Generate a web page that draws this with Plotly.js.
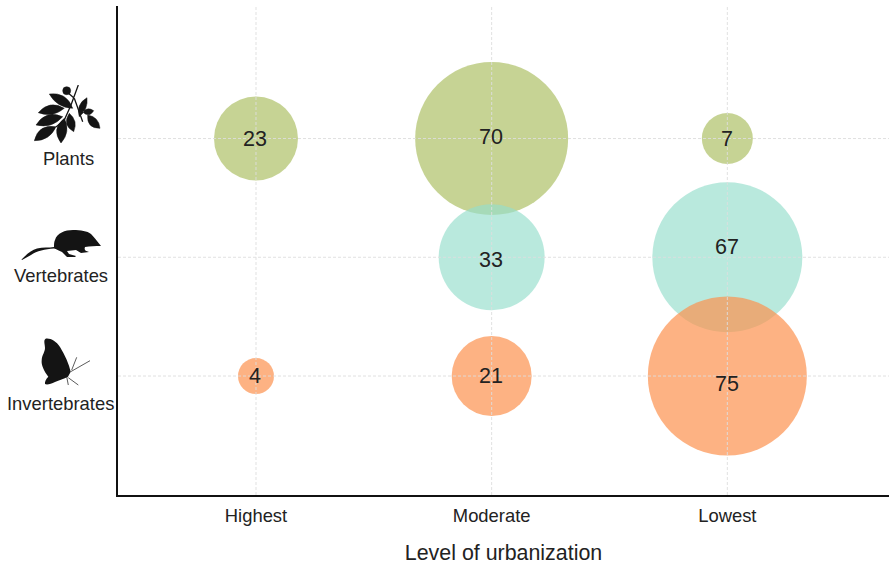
<!DOCTYPE html>
<html><head><meta charset="utf-8">
<script src="https://cdn.plot.ly/plotly-3.0.1.min.js"></script>
<style>html,body{margin:0;padding:0;background:#fff}#c{width:889px;height:565px}</style></head>
<body><div id="c"></div>
<script>
const urbanization = ['Highest','Moderate','Lowest'];
const taxa = ['Invertebrates','Vertebrates','Plants'];
const plantsValues = [23,70,7];
const vertebratesValues = [null,33,67];
const invertebratesValues = [4,21,75];
const plantsDiam = [84,153,51];
const vertebratesDiam = [0,106,150];
const invertebratesDiam = [36,80,159];
const plantsShift = [0,2,0];
const vertebratesShift = [0,-3,10];
const invertebratesShift = [0,0,-8];
const FONT = '"Liberation Sans", Arial, sans-serif';
const TEXT = '#222222';

function svg(body, w, h){
  return 'data:image/svg+xml;utf8,' + encodeURIComponent('<svg xmlns="http://www.w3.org/2000/svg" width="'+w+'" height="'+h+'" viewBox="0 0 '+w+' '+h+'">'+body+'</svg>');
}
function leaf(x1,y1,x2,y2,b){
  const mx=(x1+x2)/2,my=(y1+y2)/2,dx=x2-x1,dy=y2-y1,l=Math.hypot(dx,dy),nx=-dy/l*b,ny=dx/l*b;
  return 'M'+x1+' '+y1+'Q'+(mx+nx)+' '+(my+ny)+' '+x2+' '+y2+'Q'+(mx-nx*0.7)+' '+(my-ny*0.7)+' '+x1+' '+y1+'Z';
}
const plantIcon = svg('<g transform="translate(1,0)" fill="#141414" stroke="#141414" stroke-width=".5">'+
 '<circle cx="31.7" cy="5.7" r="4"/>'+
 '<path d="'+leaf(37.7,23.3,14.3,9,11)+leaf(29.3,23.3,3.3,27.7,11)+leaf(27.7,31.7,1,40,12)+leaf(21,41.7,-0.7,55.7,12)+leaf(29.3,33.3,26,58,12)+leaf(34.3,28.3,38.7,46.7,10)+leaf(44.3,31.7,52,12.7,-8)+leaf(47.7,27,58.7,25.7,7)+leaf(52.7,30,65,43.3,10)+'"/>'+
 '<path d="M43.3 0L36 20L29.3 35L21 42M39.3 13.3L47.7 36.7M32 7L39 13" fill="none" stroke-width="1.3"/></g>',68,62);
const shrewIcon = svg('<path fill="#141414" d="M34 12C36 5 44 2 52 2C60 2 66 3 70 6C73 9 76 13 80 18C74 18 69 18 64 19C63 22 64 23 68 24L60 25L55 22L46 23L48 26L55 28L54 29L46 29L41 24C38 23 35 21 33 20.5C24 21 16 23 10 27L1 32L0.5 31.5C5 27 10 22 16 20.5C22 19 28 20 33 19C33 16 33 14 34 12Z"/>',81,36);
const butterflyIcon = svg('<path fill="#141414" d="M5 0.5C10 0 15 3 19 9C24 17 28 26 29.7 33.7L27 38.7C23 41 18 42 14 44C10 46 6 47 4 46C3.5 44 5 41 7.3 38.7C3 33 0 27 0.7 22C1 17 4 14 4 10C4 6 2 2 5 0.5Z"/><path fill="none" stroke="#141414" stroke-width=".7" d="M29.7 33.7L49 22.7M30.7 32L35.7 19.3M25.7 38.7L27.3 47M27.3 39.7L37.3 47"/>',50,50);

function bubble(name,vals,diam,color,yi){
  return {type:'scatter',mode:'markers',name,x:urbanization,y:vals.map(()=>taxa[yi]),
    marker:{size:diam,sizemode:'diameter',color,opacity:1,line:{width:0}},
    hoverinfo:'text',text:vals.map(v=>v==null?'':String(v))};
}
const traces=[
  bubble('Plants',plantsValues,plantsDiam,'rgba(169,188,92,0.66)',2),
  bubble('Vertebrates',vertebratesValues,vertebratesDiam,'rgba(149,222,203,0.66)',1),
  bubble('Invertebrates',invertebratesValues,invertebratesDiam,'rgba(252,146,79,0.70)',0),
];
function labels(vals,shift,yi){
  return vals.map((v,i)=>v==null?null:{x:urbanization[i],y:taxa[yi],text:String(v),showarrow:false,xshift:-0.7,yshift:shift[i],font:{family:FONT,size:21.5,color:TEXT}}).filter(Boolean);
}
const annos=[...labels(plantsValues,plantsShift,2),...labels(vertebratesValues,vertebratesShift,1),...labels(invertebratesValues,invertebratesShift,0)];
const W=889,H=565,L=118,R=889,T=6,B=495;
const px=x=>(x-L)/(R-L), py=y=>(B-y)/(B-T);
[['Plants',68,158],['Vertebrates',61,275],['Invertebrates',60,403]].forEach(a=>annos.push({xref:'paper',yref:'paper',x:px(a[1]),y:py(a[2]),text:a[0],showarrow:false,xanchor:'center',yanchor:'middle',font:{family:FONT,size:18.4,color:TEXT}}));
const gridLine={color:'rgba(222,222,222,0.9)',width:1,dash:'3px,2px'};
const shapes=[
  ...urbanization.map(c=>({type:'line',layer:'above',xref:'x',yref:'paper',x0:c,x1:c,y0:0,y1:1,line:gridLine})),
  ...taxa.map(c=>({type:'line',layer:'above',xref:'paper',yref:'y',x0:0,x1:1,y0:c,y1:c,line:gridLine}))
];
const layout={width:W,height:H,paper_bgcolor:'#fff',plot_bgcolor:'#fff',showlegend:false,
  margin:{l:L,r:W-R,t:T,b:H-B,pad:0},
  font:{family:FONT,color:TEXT},
  xaxis:{type:'category',categoryorder:'array',categoryarray:urbanization,range:[-0.5855,2.686],
    showgrid:false,zeroline:false,
    showline:true,linecolor:'#111',linewidth:2,ticks:'',tickfont:{size:18.4,family:FONT,color:TEXT},ticklabelstandoff:3,
    title:{text:'Level of urbanization',font:{size:21.4,family:FONT,color:TEXT},standoff:20}},
  yaxis:{type:'category',categoryorder:'array',categoryarray:taxa,range:[-1.002,3.116],
    showgrid:false,zeroline:false,
    showline:true,linecolor:'#111',linewidth:2,ticks:'',showticklabels:false},
  annotations:annos,shapes,
  images:[
    {source:plantIcon,xref:'paper',yref:'paper',x:px(34),y:py(85),sizex:68/(R-L),sizey:62/(B-T),xanchor:'left',yanchor:'top',sizing:'stretch',layer:'above'},
    {source:shrewIcon,xref:'paper',yref:'paper',x:px(21),y:py(228),sizex:81/(R-L),sizey:36/(B-T),xanchor:'left',yanchor:'top',sizing:'stretch',layer:'above'},
    {source:butterflyIcon,xref:'paper',yref:'paper',x:px(41),y:py(338),sizex:50/(R-L),sizey:50/(B-T),xanchor:'left',yanchor:'top',sizing:'stretch',layer:'above'}
  ]};
Plotly.newPlot('c',traces,layout,{displayModeBar:false,staticPlot:true});
</script></body></html>
